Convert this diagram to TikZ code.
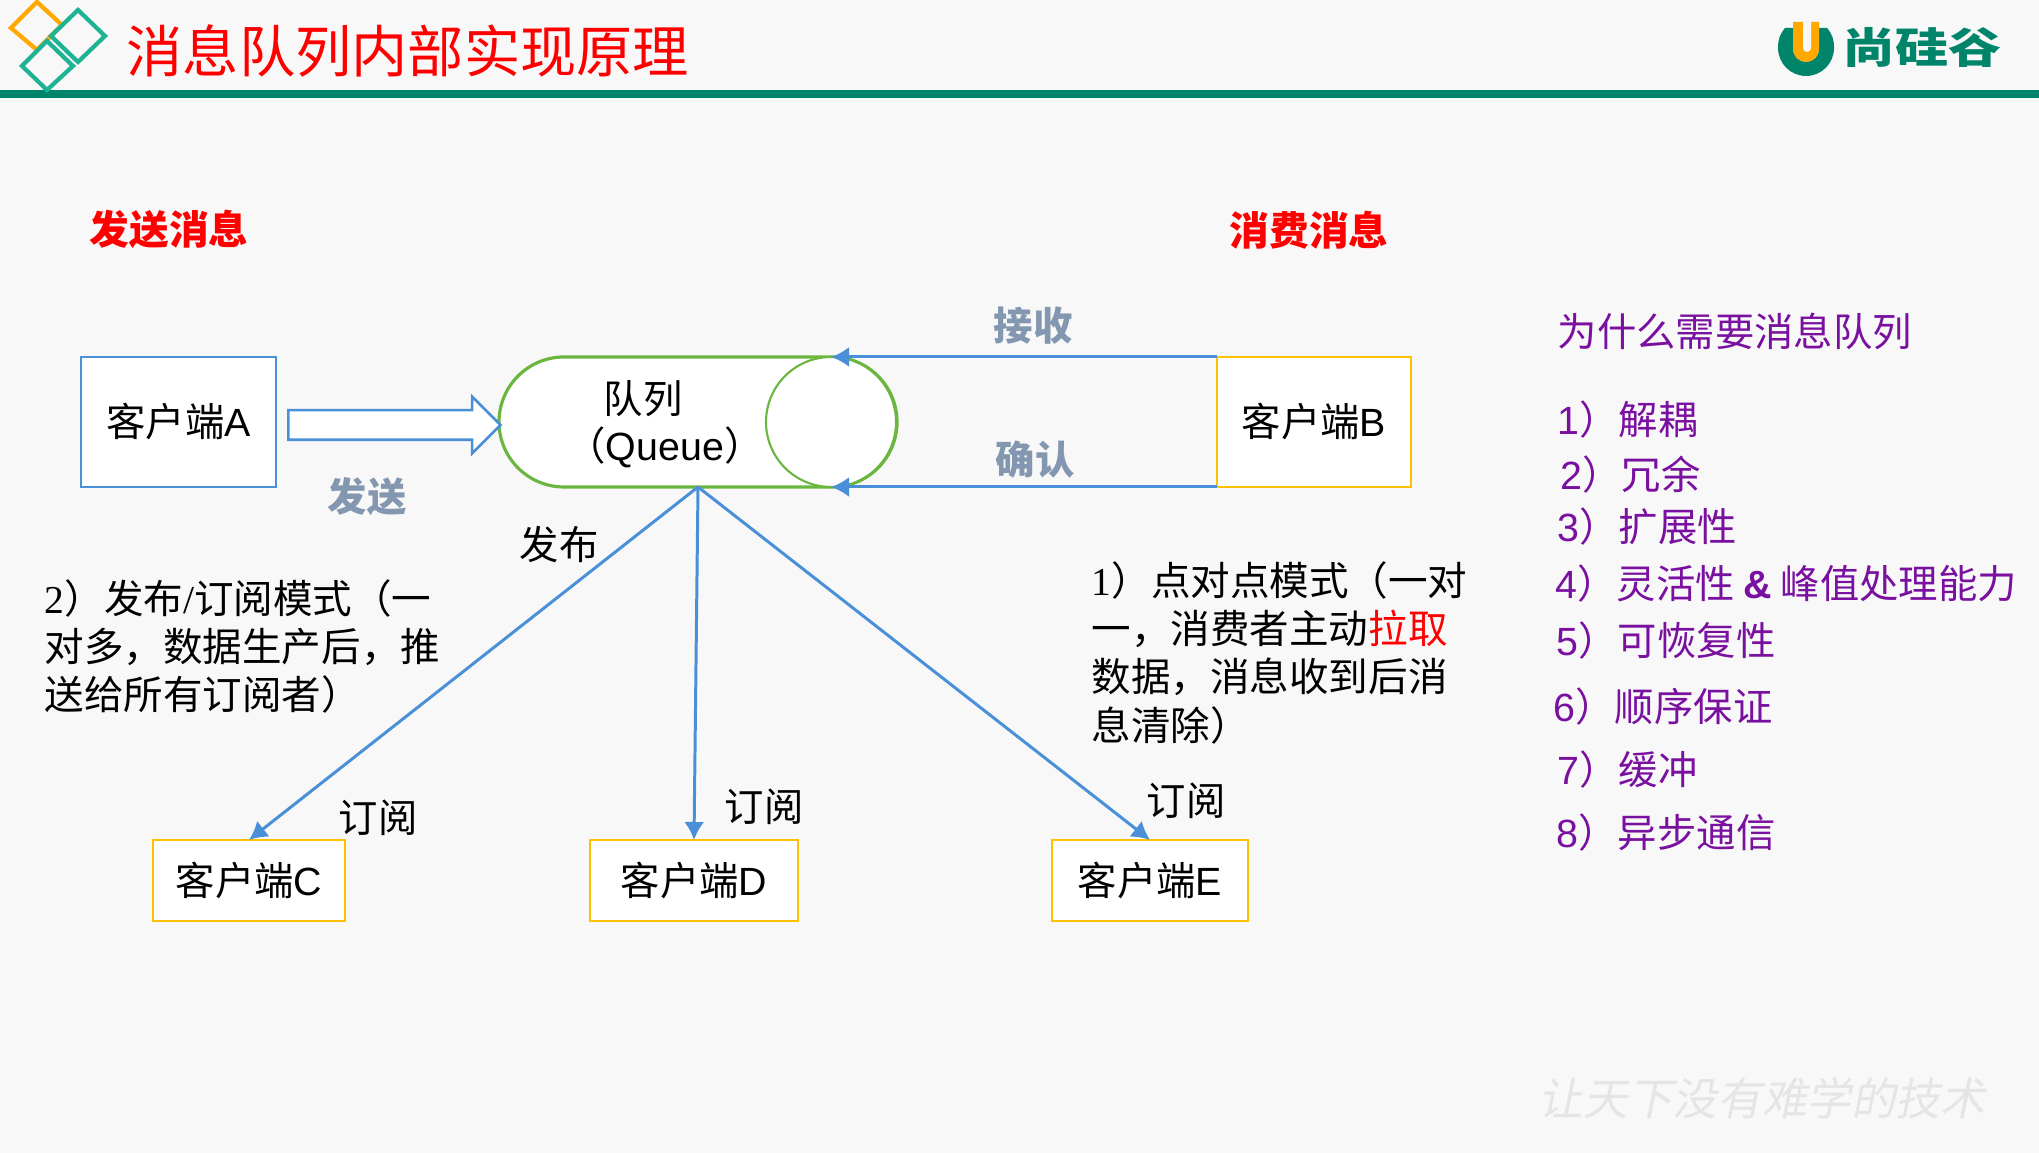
\documentclass[tikz,border=0pt]{standalone}
\usepackage{fontspec}
\setmainfont{Liberation Sans}
\newfontfamily\cjk{Noto Sans CJK SC}
\newfontfamily\markfont[FakeSlant=0.2]{Noto Sans CJK SC}
\newfontfamily\serifnum{Liberation Serif}
\usepackage{tikz}
\usetikzlibrary{arrows.meta,positioning,shapes.misc,shapes.arrows}
\definecolor{pagebg}{HTML}{F8F8F8}
\definecolor{rulegreen}{HTML}{00856A}
\definecolor{linkblue}{HTML}{4A90D9}
\definecolor{boxyellow}{HTML}{FFC000}
\definecolor{queuegreen}{HTML}{6AB63F}
\definecolor{mutedblue}{HTML}{8497B0}
\definecolor{listpurple}{HTML}{7A10A0}
\definecolor{logoorange}{HTML}{FFA800}
\definecolor{logogreen}{HTML}{1DB394}
\newcommand{\ptxt}[1]{{\cjk #1}}

\begin{document}
\begin{tikzpicture}[
  client/.style={rectangle, draw=linkblue, line width=0.75pt, fill=white, inner sep=0pt, outer sep=0pt, font=\fontsize{11.2}{13}\selectfont},
  subbox/.style={client, draw=boxyellow},
  blue link/.style={-{Latex[length=1.8mm,width=2mm]}, linkblue, line width=0.85pt},
  plain label/.style={font=\cjk\fontsize{11.2}{13}\selectfont, inner sep=0pt},
  muted label/.style={plain label, font=\cjk\bfseries\fontsize{11.2}{13}\selectfont, text=mutedblue},
  red head/.style={plain label, font=\cjk\bfseries\fontsize{11.3}{13}\selectfont, text=red},
  item/.style={plain label, anchor=west, text=listpurple},
  para/.style={plain label, anchor=north west, align=left, font=\cjk\fontsize{11.25}{13.75}\selectfont}
]
  \useasboundingbox (0,0) rectangle (20.39,11.53);
  \fill[pagebg] (0,0) rectangle (20.39,11.53);
  % Header
  \fill[rulegreen] (0,10.55) rectangle (20.39,10.63);
  \draw[logoorange, line width=1.2pt] (0.37,11.51) -- (0.62,11.28) -- (0.37,11.03) -- (0.11,11.25) -- cycle;
  \draw[logogreen, line width=1.2pt] (0.78,11.43) -- (1.05,11.17) -- (0.78,10.91) -- (0.51,11.17) -- cycle;
  \draw[logogreen, line width=1.2pt, fill=pagebg] (0.47,11.12) -- (0.73,10.87) -- (0.47,10.63) -- (0.22,10.87) -- cycle;
  \node[font=\cjk\fontsize{16}{18}\selectfont, text=red, inner sep=0pt, anchor=west] (title) at (1.26,11.02) {消息队列内部实现原理};
  % Logo
  \fill[rulegreen] (17.85,11.25) to[bend right=20] (17.78,11.05) arc[start angle=180, end angle=360, radius=0.28] to[bend right=20] (18.27,11.25) -- (18.19,11.25) -- (18.19,11.04) arc[start angle=0, end angle=-180, radius=0.13] -- (17.93,11.25) -- cycle;
  \fill[logoorange] (17.93,11.31) -- (18.19,11.31) -- (18.19,11.04) arc[start angle=0, end angle=-180, radius=0.13] -- cycle;
  \fill[pagebg] (18.03,11.31) -- (18.11,11.31) -- (18.11,11.05) arc[start angle=0, end angle=-180, radius=0.04] -- cycle;
  \node[font=\cjk\bfseries\fontsize{12}{14}\selectfont, text=rulegreen, inner sep=0pt, xscale=1.26, transform shape] (brand) at (19.22,11.05) {尚硅谷};
  % Clients and queue
  \node[client, minimum width=1.95cm, minimum height=1.3cm] (clientA) at (1.785,7.31) {\ptxt{客户端}A};
  \node[subbox, minimum width=1.94cm, minimum height=1.3cm] (clientB) at (13.14,7.31) {\ptxt{客户端}B};
  \node[rounded rectangle, draw=queuegreen, line width=0.9pt, fill=white, minimum width=3.98cm, minimum height=1.3cm, inner sep=0pt, outer sep=0pt] (queue) at (6.98,7.31) {};
  \node[circle, draw=queuegreen, line width=0.6pt, fill=white, minimum size=1.3cm, inner sep=0pt, outer sep=0pt] (tail) at (8.31,7.31) {};
  \node[plain label] (queuename) at (6.43,7.54) {队列};
  \node[plain label] (queueen) at (6.65,7.06) {（\textrm{Queue}）};
  \node[subbox, minimum width=1.92cm, minimum height=0.81cm] (clientC) at (2.49,2.725) {\ptxt{客户端}C};
  \node[subbox, minimum width=2.08cm, minimum height=0.81cm] (clientD) at (6.94,2.725) {\ptxt{客户端}D};
  \node[subbox, minimum width=1.96cm, minimum height=0.81cm] (clientE) at (11.5,2.725) {\ptxt{客户端}E};
  % Connectors
  \node[single arrow, draw=linkblue, line width=0.75pt, fill=white, minimum height=2.12cm, single arrow head extend=0.135cm, single arrow tip angle=90, inner sep=0pt, outer sep=0pt] (sendarrow) at (3.87,7.28) {\rule{0pt}{0.27cm}};
  \draw[blue link] (clientB.north west) -- (tail.north);
  \draw[blue link] (clientB.south west) -- (tail.south);
  \draw[blue link] (queue.south) -- (clientC.north);
  \draw[blue link] (queue.south) -- (clientD.north);
  \draw[blue link] (queue.south) -- (clientE.north);
  % Labels
  \node[red head] (sendhead) at (1.69,9.24) {发送消息};
  \node[red head] (usehead) at (13.09,9.23) {消费消息};
  \node[muted label] (send) at (3.67,6.56) {发送};
  \node[muted label] (recv) at (10.33,8.27) {接收};
  \node[muted label] (ack) at (10.35,6.93) {确认};
  \node[plain label] (pub) at (5.59,6.08) {发布};
  \node[plain label] (subC) at (3.78,3.35) {订阅};
  \node[plain label] (subD) at (7.64,3.46) {订阅};
  \node[plain label] (subE) at (11.86,3.52) {订阅};
  \node[para] (leftnote) at (0.44,5.745) {{\serifnum 2}）发布{\serifnum /}订阅模式（一\\对多，数据生产后，推\\送给所有订阅者）};
  \node[para] (rightnote) at (10.91,5.925) {{\serifnum 1}）点对点模式（一对\\一，消费者主动\textcolor{red}{拉取}\\数据，消息收到后消\\息清除）};
  % Why a queue
  \node[item] (why) at (15.57,8.22) {为什么需要消息队列};
  \node[item] (item1) at (15.57,7.33) {\textrm{1}）解耦};
  \node[item] (item2) at (15.6,6.78) {\textrm{2}）冗余};
  \node[item] (item3) at (15.57,6.26) {\textrm{3}）扩展性};
  \node[item] (item4) at (15.55,5.69) {\textrm{4}）灵活性\hspace{0.22em}\textrm{\bfseries\&}\hspace{0.22em}峰值处理能力};
  \node[item] (item5) at (15.56,5.12) {\textrm{5}）可恢复性};
  \node[item] (item6) at (15.53,4.46) {\textrm{6}）顺序保证};
  \node[item] (item7) at (15.57,3.83) {\textrm{7}）缓冲};
  \node[item] (item8) at (15.56,3.2) {\textrm{8}）异步通信};
  \node[font=\markfont\fontsize{12.7}{14}\selectfont, text=black!10, inner sep=0pt] (motto) at (17.62,0.55) {让天下没有难学的技术};
\end{tikzpicture}
\end{document}
